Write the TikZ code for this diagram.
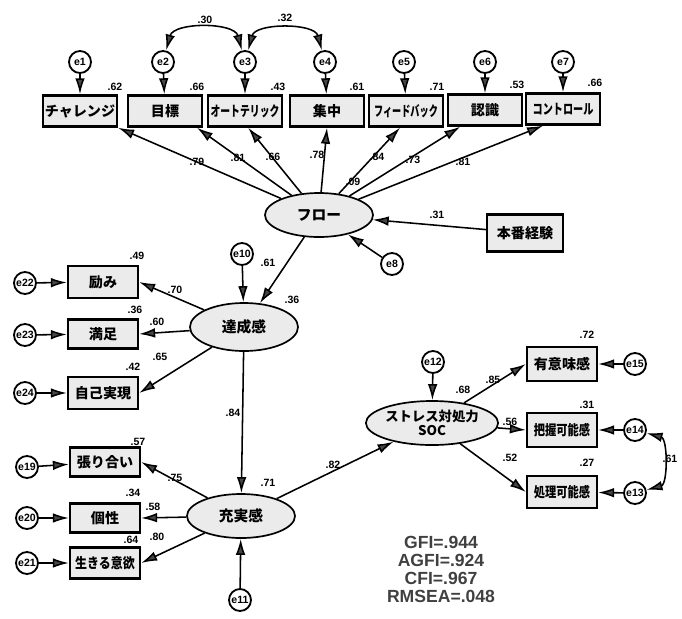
\documentclass[tikz,border=0pt]{standalone}
\usepackage{fontspec}
\setmainfont{Liberation Sans}
\newfontfamily\jpfont{Noto Sans CJK JP}
\usepackage{graphicx}
\usetikzlibrary{shapes.geometric, arrows.meta}
\newcommand{\narrowjp}[2]{\scalebox{#1}[1]{#2}}

\begin{document}
\begin{tikzpicture}[x=0.025cm, y=-0.025cm,
    obs/.style={draw, line width=1.6pt, fill=gray!16, minimum width=1.85cm, minimum height=0.78cm, inner sep=1pt, font=\jpfont\bfseries\fontsize{10}{11}\selectfont},
    lat/.style={draw, ellipse, line width=1.2pt, fill=gray!16, minimum width=2.7cm, minimum height=1.1cm, inner sep=0pt, align=center, font=\jpfont\bfseries\fontsize{10.5}{11}\selectfont},
    err/.style={draw, circle, line width=1.3pt, fill=white, minimum size=0.55cm, inner sep=0pt, font=\bfseries\fontsize{7.5}{7.5}\selectfont},
    arrw/.style={line width=1.1pt, -{Latex[length=4mm, width=2.4mm, fill=gray!55!black]}},
    dbl/.style={line width=1.1pt, {Latex[length=4mm, width=2.4mm, fill=gray!55!black]}-{Latex[length=4mm, width=2.4mm, fill=gray!55!black]}},
    coef/.style={font=\bfseries\fontsize{7.5}{8}\selectfont, inner sep=1pt}
  ]
  \useasboundingbox (0,0) rectangle (682,618);

  % Flow indicators
  \node[obs] (chal) at (80,111) {チャレンジ};
  \node[obs] (goal) at (165,111) {目標};
  \node[obs] (auto) at (245,111) {\narrowjp{0.7}{オートテリック}};
  \node[obs] (conc) at (327,111) {集中};
  \node[obs] (feed) at (406,111) {\narrowjp{0.65}{フィードバック}};
  \node[obs] (aware) at (485,110) {認識};
  \node[obs] (ctrl) at (563,109) {\narrowjp{0.72}{コントロール}};
  \foreach \n/\x/\b in {1/80/chal, 2/163/goal, 3/245/auto, 4/325/conc, 5/404/feed, 6/485/aware, 7/563/ctrl} {
    \node[err] (e\n) at (\x,62) {e\n};
    \draw[arrw] (e\n) -- (\b);
  }
  \draw[dbl] (e2) to[out=75,in=105] (e3);
  \draw[dbl] (e3) to[out=75,in=105] (e4);
  \node[coef] (c23) at (205,20) {.30};
  \node[coef] (c34) at (285,18) {.32};
  \node[coef] (rchal) at (115,87) {.62};
  \node[coef] (rgoal) at (197,87) {.66};
  \node[coef] (rauto) at (278,87) {.43};
  \node[coef] (rconc) at (357,87) {.61};
  \node[coef] (rfeed) at (437,87) {.71};
  \node[coef] (raware) at (517,85) {.53};
  \node[coef] (rctrl) at (595,83) {.66};

  % Flow
  \node[lat] (flow) at (319,215) {フロー};
  \node[obs, minimum width=1.9cm, minimum height=0.92cm] (exper) at (525,233) {本番経験};
  \node[err] (e8) at (392,264) {e8};
  \draw[arrw] (exper) -- (flow);
  \draw[arrw] (e8) -- (flow);
  \draw[arrw] (flow) -- (chal.south east);
  \draw[arrw] (flow) -- ([xshift=0.8cm]goal.south);
  \draw[arrw] (flow) -- ([xshift=0.08cm]auto.south);
  \draw[arrw] (flow) -- (conc.south);
  \draw[arrw] (flow) -- ([xshift=-0.15cm]feed.south);
  \draw[arrw] (flow) -- ([xshift=-0.62cm]aware.south);
  \draw[arrw] (flow) -- ([xshift=-0.5cm]ctrl.south);
  \node[coef] (lchal) at (197,162) {.79};
  \node[coef] (lgoal) at (238,158) {.81};
  \node[coef] (lauto) at (273,157) {.66};
  \node[coef] (lconc) at (317,155) {.78};
  \node[coef] (lfeed) at (377,157) {.84};
  \node[coef] (laware) at (413,160) {.73};
  \node[coef] (lctrl) at (463,162) {.81};
  \node[coef] (rflow) at (353,182) {.09};
  \node[coef] (lexper) at (437,215) {.31};

  % Achievement
  \node[lat, minimum height=1.2cm] (achv) at (244,327) {達成感};
  \node[err] (e10) at (242,254) {e10};
  \draw[arrw] (e10) -- (achv);
  \draw[arrw] (flow) -- (achv);
  \node[coef] (lachv) at (268,263) {.61};
  \node[coef] (rachv) at (292,300) {.36};
  \node[obs, minimum width=1.75cm, minimum height=0.8cm] (enc) at (103,282) {励み};
  \node[obs, minimum width=1.75cm, minimum height=0.72cm] (sat) at (103,334) {満足};
  \node[obs, minimum width=1.75cm, minimum height=0.8cm] (selfr) at (103,393) {自己実現};
  \foreach \n/\y/\b in {22/283/enc, 23/335/sat, 24/393/selfr} {
    \node[err] (e\n) at (25,\y) {e\n};
    \draw[arrw] (e\n) -- (\b);
  }
  \draw[arrw] (achv) -- (enc.east);
  \draw[arrw] (achv) -- (sat.east);
  \draw[arrw] (achv) -- (selfr.east);
  \node[coef] (lenc) at (175,290) {.70};
  \node[coef] (lsat) at (157,322) {.60};
  \node[coef] (lselfr) at (160,357) {.65};
  \node[coef] (renc) at (137,256) {.49};
  \node[coef] (rsat) at (135,310) {.36};
  \node[coef] (rselfr) at (133,367) {.42};

  % Fulfilment
  \node[lat] (fulf) at (241,516) {充実感};
  \node[err] (e11) at (240,600) {e11};
  \draw[arrw] (achv) -- (fulf);
  \draw[arrw] (e11) -- (fulf);
  \node[coef] (lfulf) at (233,413) {.84};
  \node[coef] (rfulf) at (268,483) {.71};
  \node[obs, minimum width=1.75cm, minimum height=0.72cm] (har) at (105,462) {張り合い};
  \node[obs, minimum width=1.75cm, minimum height=0.72cm] (indiv) at (105,518) {個性};
  \node[obs, minimum width=1.75cm, minimum height=0.78cm] (ikiru) at (105,563) {\narrowjp{0.85}{生きる意欲}};
  \foreach \n/\y/\b in {19/467/har, 20/518/indiv, 21/563/ikiru} {
    \node[err] (e\n) at (27,\y) {e\n};
    \draw[arrw] (e\n) -- (\b);
  }
  \draw[arrw] (fulf) -- (har.east);
  \draw[arrw] (fulf) -- (indiv.east);
  \draw[arrw] (fulf) -- (ikiru.east);
  \node[coef] (lhar) at (175,478) {.75};
  \node[coef] (lindiv) at (153,507) {.58};
  \node[coef] (likiru) at (157,537) {.80};
  \node[coef] (rhar) at (138,442) {.57};
  \node[coef] (rindiv) at (133,493) {.34};
  \node[coef] (rikiru) at (131,540) {.64};

  % SOC
  \node[lat, font=\jpfont\bfseries\fontsize{9.5}{10}\selectfont] (soc) at (432,423) {ストレス対処力\\SOC};
  \node[err] (e12) at (433,362) {e12};
  \draw[arrw] (e12) -- (soc);
  \draw[arrw] (fulf) -- (soc);
  \node[coef] (lsoc) at (333,465) {.82};
  \node[coef] (rsoc) at (463,390) {.68};
  \node[obs, minimum width=1.75cm, minimum height=0.85cm] (mean) at (562,364) {有意味感};
  \node[obs, minimum width=1.75cm, minimum height=0.85cm] (comp) at (562,430) {\narrowjp{0.8}{把握可能感}};
  \node[obs, minimum width=1.75cm, minimum height=0.8cm] (manag) at (562,492) {\narrowjp{0.8}{処理可能感}};
  \foreach \n/\y/\b in {15/364/mean, 14/430/comp, 13/493/manag} {
    \node[err] (e\n) at (635,\y) {e\n};
    \draw[arrw] (e\n) -- (\b);
  }
  \draw[dbl] (e14) to[out=-15,in=15] (e13);
  \node[coef] (c1314) at (670,459) {.61};
  \draw[arrw] (soc) -- (mean.west);
  \draw[arrw] (soc) -- (comp.west);
  \draw[arrw] (soc) -- (manag.west);
  \node[coef] (lmean) at (493,380) {.85};
  \node[coef] (lcomp) at (510,422) {.56};
  \node[coef] (lmanag) at (510,458) {.52};
  \node[coef] (rmean) at (587,335) {.72};
  \node[coef] (rcomp) at (587,405) {.31};
  \node[coef] (rmanag) at (587,463) {.27};

  % Fit indices
  \node[align=center, text=black!75, font=\bfseries\fontsize{12.5}{12.8}\selectfont] (fit) at (441,569) {GFI=.944\\AGFI=.924\\CFI=.967\\RMSEA=.048};
\end{tikzpicture}
\end{document}
